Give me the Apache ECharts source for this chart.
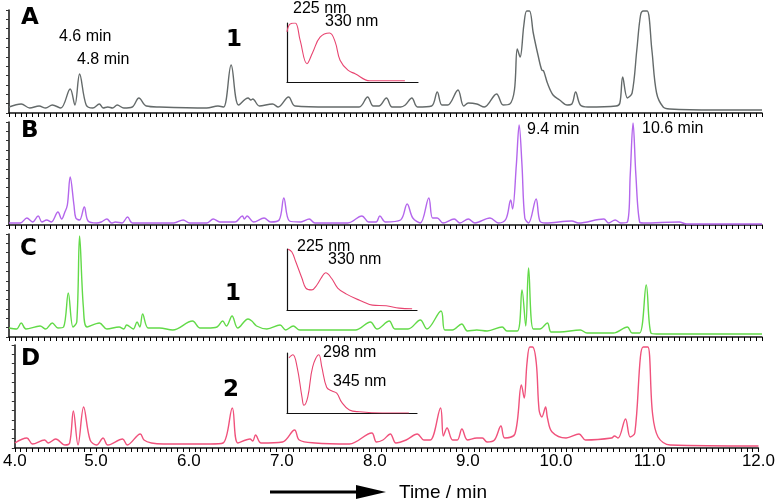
<!DOCTYPE html>
<html><head><meta charset="utf-8">
<script src="https://cdn.jsdelivr.net/npm/echarts@6/dist/echarts.min.js"></script>
<style>html,body{margin:0;padding:0;background:#fff}#c{width:778px;height:504px}</style>
</head><body><div id="c"></div>
<script>
// ---- Chromatogram A (retention time in min, signal) ----
const timeA = [4.0,4.13,4.22,4.32,4.39,4.46,4.55,4.65,4.70,4.75,4.82,4.89,4.96,5.00,5.05,5.10,5.15,5.22,5.31,5.38,5.46,5.60,6.10,6.22,6.28,6.36,6.44,6.54,6.57,6.59,6.66,6.80,6.86,6.97,7.04,7.40,7.72,7.81,7.87,7.93,8.01,8.07,8.16,8.21,8.28,8.34,8.49,8.55,8.60,8.66,8.77,8.83,8.88,8.97,9.05,9.18,9.25,9.32,9.37,9.40,9.43,9.47,9.50,9.53,9.57,9.62,9.66,9.68,9.72,9.78,9.85,9.93,9.98,10.02,10.07,10.15,10.45,10.49,10.52,10.57,10.62,10.67,10.71,10.74,10.78,10.83,10.88,10.95,11.02,11.50,12.0];
const signalA = [6,9,5,7,5,8,5,24,8,39,8,5,9,5,6,5,8,5,6,15,7,6,5,7,6,48,8,15,13,14,7,9,6,16,7,6,6,16,7,7,15,6,6,8,15,6,7,21,8,8,23,7,10,9,6,19,8,9,23,64,56,88,102,102,80,58,43,42,30,18,13,8,9,21,8,6,7,10,36,15,20,63,98,102,102,63,20,6,4,3,3];
// ---- Chromatogram B ----
const timeB = [4.0,4.12,4.19,4.25,4.31,4.35,4.40,4.45,4.52,4.56,4.59,4.62,4.65,4.69,4.71,4.75,4.80,4.84,4.93,4.98,5.04,5.09,5.13,5.20,5.26,5.31,5.75,5.85,5.92,6.10,6.17,6.24,6.40,6.48,6.50,6.53,6.60,6.71,6.78,6.87,6.92,6.98,7.10,7.19,7.25,7.60,7.75,7.82,7.90,7.94,8.00,8.16,8.23,8.29,8.37,8.46,8.50,8.55,8.61,8.73,8.79,8.88,8.95,9.11,9.20,9.28,9.33,9.35,9.39,9.42,9.45,9.48,9.52,9.60,9.64,9.70,9.98,10.05,10.32,10.37,10.44,10.50,10.57,10.60,10.63,10.66,10.70,10.74,11.12,11.20,12.0];
const signalB = [2,2,7,3,9,3,5,3,13,6,12,20,48,20,7,5,18,4,2,3,6,2,3,2,8,2,2,5,2,2,6,3,3,9,6,9,3,7,3,5,27,4,3,6,2,2,9,3,3,9,3,5,21,7,2,27,7,7,2,6,2,6,2,7,2,6,25,16,60,100,60,7,2,26,4,2,4,2,6,2,5,2,3,50,102,50,3,2,3,1,1];
// ---- Chromatogram C ----
const timeC = [4.0,4.08,4.13,4.18,4.33,4.39,4.46,4.52,4.58,4.63,4.68,4.72,4.75,4.79,4.83,4.96,5.04,5.17,5.22,5.25,5.32,5.36,5.39,5.42,5.48,5.60,5.74,5.95,6.03,6.11,6.21,6.27,6.31,6.37,6.43,6.54,6.58,6.63,6.74,6.88,6.94,7.02,7.09,7.34,7.68,7.84,7.91,8.04,8.10,8.24,8.37,8.44,8.59,8.63,8.71,8.81,8.87,8.97,9.08,9.24,9.29,9.40,9.45,9.49,9.52,9.57,9.64,9.72,9.76,9.85,10.07,10.14,10.42,10.57,10.62,10.70,10.77,10.82,10.88,12.0];
const signalC = [9,8,14,8,11,8,14,9,10,44,10,15,101,30,10,14,8,10,8,12,8,15,10,23,9,9,7,16,9,9,10,16,11,21,9,18,16,11,8,12,7,11,7,7,7,15,8,16,8,8,17,8,26,7,7,13,6,7,6,10,6,6,47,11,69,8,8,14,5,5,7,4,4,10,4,4,52,4,3,3];
// ---- Chromatogram D ----
const timeD = [4.0,4.13,4.19,4.32,4.36,4.44,4.54,4.59,4.63,4.68,4.74,4.81,4.88,4.95,5.00,5.16,5.21,5.35,5.39,5.47,5.60,6.10,6.24,6.34,6.40,6.53,6.56,6.59,6.65,6.88,7.01,7.06,7.23,7.60,7.84,7.89,7.96,8.04,8.10,8.21,8.33,8.40,8.47,8.58,8.61,8.65,8.71,8.76,8.81,8.87,8.97,9.03,9.08,9.16,9.23,9.27,9.38,9.45,9.48,9.51,9.54,9.57,9.61,9.64,9.67,9.71,9.73,9.78,9.93,10.07,10.14,10.42,10.45,10.49,10.57,10.62,10.67,10.73,10.76,10.81,10.86,10.92,11.05,12.0];
const signalD = [5,10,4,8,5,9,3,5,37,3,41,8,3,10,3,9,3,14,8,5,4,4,5,40,5,9,7,13,5,6,18,8,5,4,15,6,8,14,5,8,14,8,8,40,12,20,8,8,19,8,10,10,6,8,22,10,14,63,50,85,101,101,85,38,31,41,30,16,10,14,8,10,12,10,29,11,15,91,101,101,35,11,3,2];
// ---- UV spectra insets (wavelength nm, absorbance) ----
const wlA = [200,209,225,240,261,279,301,330,347,362,386,408,453,560];
const absA = [85,98,100,71,31,51,76,83,68,37,20,14,2,2];
const wlC = [203,215,227,246,258,276,292,307,319,337,356,383,423,463,505,545,585];
const absC = [100,95,79,52,36,33,41,54,61,52,36,26,16,8,7,3,2];
const wlD = [206,218,231,246,252,264,279,298,307,322,337,353,368,392,423,493,575];
const absD = [92,97,77,27,13,27,77,97,77,43,37,33,18,5,2,0,0];
const xTickLabels = [4,5,6,7,8,9,10,11,12];
const xTickStep = 0.0625;

const zip = (a, b) => a.map((v, i) => [v, b[i]]);
const FONT = '"Liberation Sans", Arial, sans-serif';
const colors = ['#646a6a', '#b466ec', '#62da48', '#f0527c'];
const insetColor = '#e84470';
const tickPositions = [];
for (let v = 4; v <= 12.0001; v += xTickStep) tickPositions.push(+v.toFixed(4));

const mainTops = [10, 122, 234, 345];
const grids = mainTops.map(t => ({left: 9, right: 16, top: t, height: 103}));
grids.push({left: 287, top: 23, width: 131, height: 59});
grids.push({left: 287, top: 249, width: 130, height: 61});
grids.push({left: 287, top: 353, width: 130, height: 60});

const xAxes = [0,1,2,3].map(i => ({
  type: 'value', gridIndex: i, min: 4, max: 12, interval: 1,
  axisLine: {show: true, lineStyle: {color: '#111', width: 1.5}},
  axisTick: {show: true, length: 4, customValues: tickPositions, lineStyle: {color: '#000', width: 1}},
  splitLine: {show: true, lineStyle: {color: 'rgba(0,0,0,0)'}},
  axisLabel: i === 3 ? {show: true, fontSize: 17, color: '#000', fontFamily: FONT, margin: 5,
      align: 'right', alignMinLabel: 'center', alignMaxLabel: 'center',
      customValues: xTickLabels, formatter: v => v.toFixed(1)}
    : {show: true, customValues: xTickLabels, formatter: () => ''}
}));
[4,5,6].forEach(g => xAxes.push({
  type: 'value', gridIndex: g, min: 200, max: 600,
  axisLine: {show: true, lineStyle: {color: '#111', width: 1.2}},
  axisTick: {show: false}, axisLabel: {show: false}, splitLine: {show: false}
}));
const yAxes = [0,1,2,3].map(i => ({
  type: 'value', gridIndex: i, min: 0, max: 103, interval: 103 / 11,
  axisLine: {show: true, lineStyle: {color: '#111', width: 1.5}},
  axisTick: {show: true, length: 3, lineStyle: {color: '#333'}},
  axisLabel: {show: false}, splitLine: {show: false}
}));
[4,5,6].forEach(g => yAxes.push({
  type: 'value', gridIndex: g, min: 0, max: 100,
  axisLine: {show: true, lineStyle: {color: '#111', width: 1.2}},
  axisTick: {show: false}, axisLabel: {show: false}, splitLine: {show: false}
}));

const mainData = [zip(timeA, signalA), zip(timeB, signalB), zip(timeC, signalC), zip(timeD, signalD)];
const insetData = [zip(wlA, absA), zip(wlC, absC), zip(wlD, absD)];
const series = mainData.map((d, i) => ({
  type: 'line', xAxisIndex: i, yAxisIndex: i, data: d, showSymbol: false,
  smooth: 0.35, lineStyle: {color: colors[i], width: 1.4}, animation: false, silent: true
}));
insetData.forEach((d, k) => series.push({
  type: 'line', xAxisIndex: 4 + k, yAxisIndex: 4 + k, data: d, showSymbol: false,
  smooth: 0.4, lineStyle: {color: insetColor, width: 1.1}, animation: false, silent: true
}));

const BIG = '"DejaVu Sans", "Liberation Sans", Arial, sans-serif';
const txt = (text, left, top, size, bold) => ({
  type: 'text', left, top, z: 100,
  style: {text, fill: '#000', font: (bold ? 'bold ' + size + 'px ' + BIG : size + 'px ' + FONT)}
});
const graphic = [
  txt('A', 21, 7, 23, true), txt('B', 21, 120, 23, true), txt('C', 20, 238, 23, true), txt('D', 21, 348, 23, true),
  txt('4.6 min', 59, 29, 16), txt('4.8 min', 77, 52, 16),
  txt('1', 226, 29, 23, true), txt('225 nm', 293, 1, 16), txt('330 nm', 325, 14, 16),
  txt('9.4 min', 527, 122, 16), txt('10.6 min', 642, 121, 16),
  txt('225 nm', 297, 239, 16), txt('330 nm', 328, 252, 16), txt('1', 225, 283, 23, true),
  txt('298 nm', 323, 345, 16), txt('345 nm', 333, 374, 16), txt('2', 223, 379, 23, true),
  txt('Time / min', 399, 483, 19),
  {type: 'line', shape: {x1: 270, y1: 492, x2: 360, y2: 492}, style: {stroke: '#000', lineWidth: 3}},
  {type: 'polygon', shape: {points: [[356, 485], [386, 492], [356, 499]]}, style: {fill: '#000'}}
];

const chart = echarts.init(document.getElementById('c'), null, {renderer: 'canvas'});
chart.setOption({
  animation: false, backgroundColor: '#fff',
  grid: grids, xAxis: xAxes, yAxis: yAxes, series, graphic
});
</script></body></html>
